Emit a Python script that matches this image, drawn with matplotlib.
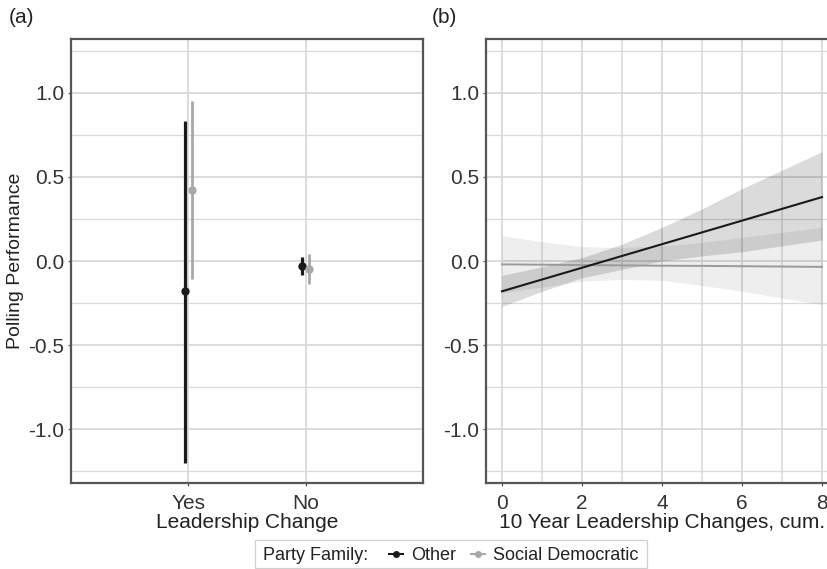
import matplotlib.pyplot as plt
from matplotlib.lines import Line2D
from matplotlib.patches import Rectangle
from matplotlib.ticker import MultipleLocator

plt.rcParams["font.family"] = ["Liberation Sans", "DejaVu Sans"]

# -----------------------------
# Data
# -----------------------------
# panel (a): leadership change yes / no
change_cats = ["Yes", "No"]
other_est = [-0.18, -0.03]
other_lo = [-1.20, -0.085]
other_hi = [0.83, 0.025]
socdem_est = [0.42, -0.045]
socdem_lo = [-0.105, -0.135]
socdem_hi = [0.95, 0.04]

# panel (b): 10 year cumulative leadership changes
cum_changes = [0, 1, 2, 3, 4, 5, 6, 7, 8]
other_fit = [-0.18, -0.11, -0.04, 0.03, 0.10, 0.17, 0.24, 0.31, 0.38]
other_upper = [-0.085, -0.035, 0.02, 0.10, 0.20, 0.31, 0.43, 0.54, 0.65]
other_lower = [-0.27, -0.18, -0.10, -0.05, 0.00, 0.03, 0.055, 0.09, 0.125]
socdem_fit = [-0.02, -0.022, -0.024, -0.026, -0.028, -0.029, -0.031, -0.033, -0.035]
socdem_upper = [0.15, 0.115, 0.085, 0.08, 0.09, 0.11, 0.14, 0.17, 0.20]
socdem_lower = [-0.19, -0.155, -0.12, -0.11, -0.115, -0.145, -0.18, -0.22, -0.26]

y_ticks = [-1.0, -0.5, 0.0, 0.5, 1.0]

OTHER_COL = "#1a1a1a"
SOCDEM_COL = "#a8a8a8"
GRID_COL = "#d9d9d9"
FRAME_COL = "#555555"
TEXT_COL = "#222222"
FS = 15      # horizontal text
FS_V = 14    # rotated y label
FS_LEG = 13


def style_axes(ax):
    ax.set_ylim(-1.32, 1.32)
    ax.set_yticks(y_ticks)
    ax.set_yticklabels([f"{v:.1f}" for v in y_ticks])
    ax.yaxis.set_minor_locator(MultipleLocator(0.25))
    ax.grid(True, which="major", color=GRID_COL, lw=1.3, zorder=0)
    ax.grid(True, which="minor", axis="y", color=GRID_COL, lw=0.9, zorder=0)
    ax.set_axisbelow(True)
    for s in ax.spines.values():
        s.set_color(FRAME_COL)
        s.set_linewidth(1.6)
    ax.tick_params(which="major", length=2.5, width=0.9, color=FRAME_COL,
                   labelsize=FS, labelcolor="#333333", pad=2.5)
    ax.tick_params(axis="x", which="major", pad=5.5)
    ax.tick_params(which="minor", length=0)


fig = plt.figure(figsize=(8.28, 5.69), dpi=100)
ax_a = fig.add_axes([0.0857, 0.1511, 0.4251, 0.7804])
ax_b = fig.add_axes([0.587, 0.1511, 0.4251, 0.7804])

# -----------------------------
# Panel (a)
# -----------------------------
style_axes(ax_a)
xpos = [1, 2]
dodge = 0.03
for i, x in enumerate(xpos):
    ax_a.plot([x - dodge, x - dodge], [other_lo[i], other_hi[i]],
              color=OTHER_COL, lw=2.3, solid_capstyle="butt", zorder=3)
    ax_a.plot(x - dodge, other_est[i], "o", color=OTHER_COL, ms=5, zorder=4)
    ax_a.plot([x + dodge, x + dodge], [socdem_lo[i], socdem_hi[i]],
              color=SOCDEM_COL, lw=2.0, solid_capstyle="butt", zorder=3)
    ax_a.plot(x + dodge, socdem_est[i], "o", color=SOCDEM_COL, ms=5, zorder=4)
ax_a.set_xlim(0, 3)
ax_a.set_xticks(xpos)
ax_a.set_xticklabels(change_cats)
ax_a.set_xlabel("Leadership Change", fontsize=FS, color=TEXT_COL, labelpad=0)
ax_a.set_ylabel("Polling Performance", fontsize=FS_V, color=TEXT_COL, labelpad=3)

# -----------------------------
# Panel (b)
# -----------------------------
style_axes(ax_b)
ax_b.fill_between(cum_changes, socdem_lower, socdem_upper, color="black",
                  alpha=0.065, lw=0, zorder=1)
ax_b.fill_between(cum_changes, other_lower, other_upper, color="black",
                  alpha=0.14, lw=0, zorder=1)
ax_b.plot(cum_changes, socdem_fit, color="#9a9a9a", lw=1.4, zorder=3)
ax_b.plot(cum_changes, other_fit, color=OTHER_COL, lw=1.5, zorder=3)
ax_b.set_xlim(-0.4, 8.4)
ax_b.set_xticks([0, 2, 4, 6, 8])
ax_b.xaxis.set_minor_locator(MultipleLocator(1))
ax_b.grid(True, which="minor", axis="x", color=GRID_COL, lw=1.1, zorder=0)
ax_b.set_xlabel("10 Year Leadership Changes, cum.", fontsize=FS,
                color=TEXT_COL, labelpad=0)

fig.text(0.010, 0.970, "(a)", fontsize=FS, color=TEXT_COL, va="center")
fig.text(0.521, 0.970, "(b)", fontsize=FS, color=TEXT_COL, va="center")

# -----------------------------
# Legend
# -----------------------------
fig.add_artist(Rectangle((255 / 828, 1 / 569), 392 / 828, 28 / 569,
                         transform=fig.transFigure, fill=False,
                         edgecolor="#d0d0d0", lw=0.9))
fig.text(263 / 828, 13 / 569, "Party Family:", fontsize=FS_LEG,
         color=TEXT_COL, va="center")
handles = [
    Line2D([], [], color=OTHER_COL, lw=1.5, marker="o", ms=4, label="Other"),
    Line2D([], [], color=SOCDEM_COL, lw=1.5, marker="o", ms=4,
           label="Social Democratic"),
]
fig.legend(handles=handles, ncol=2, frameon=False, fontsize=FS_LEG,
           loc="center left", bbox_to_anchor=(389 / 828, 13 / 569),
           handlelength=0.8, handletextpad=0.4, columnspacing=0.85,
           borderpad=0, borderaxespad=0, labelcolor=TEXT_COL)

fig.savefig("out.png", dpi=100)
